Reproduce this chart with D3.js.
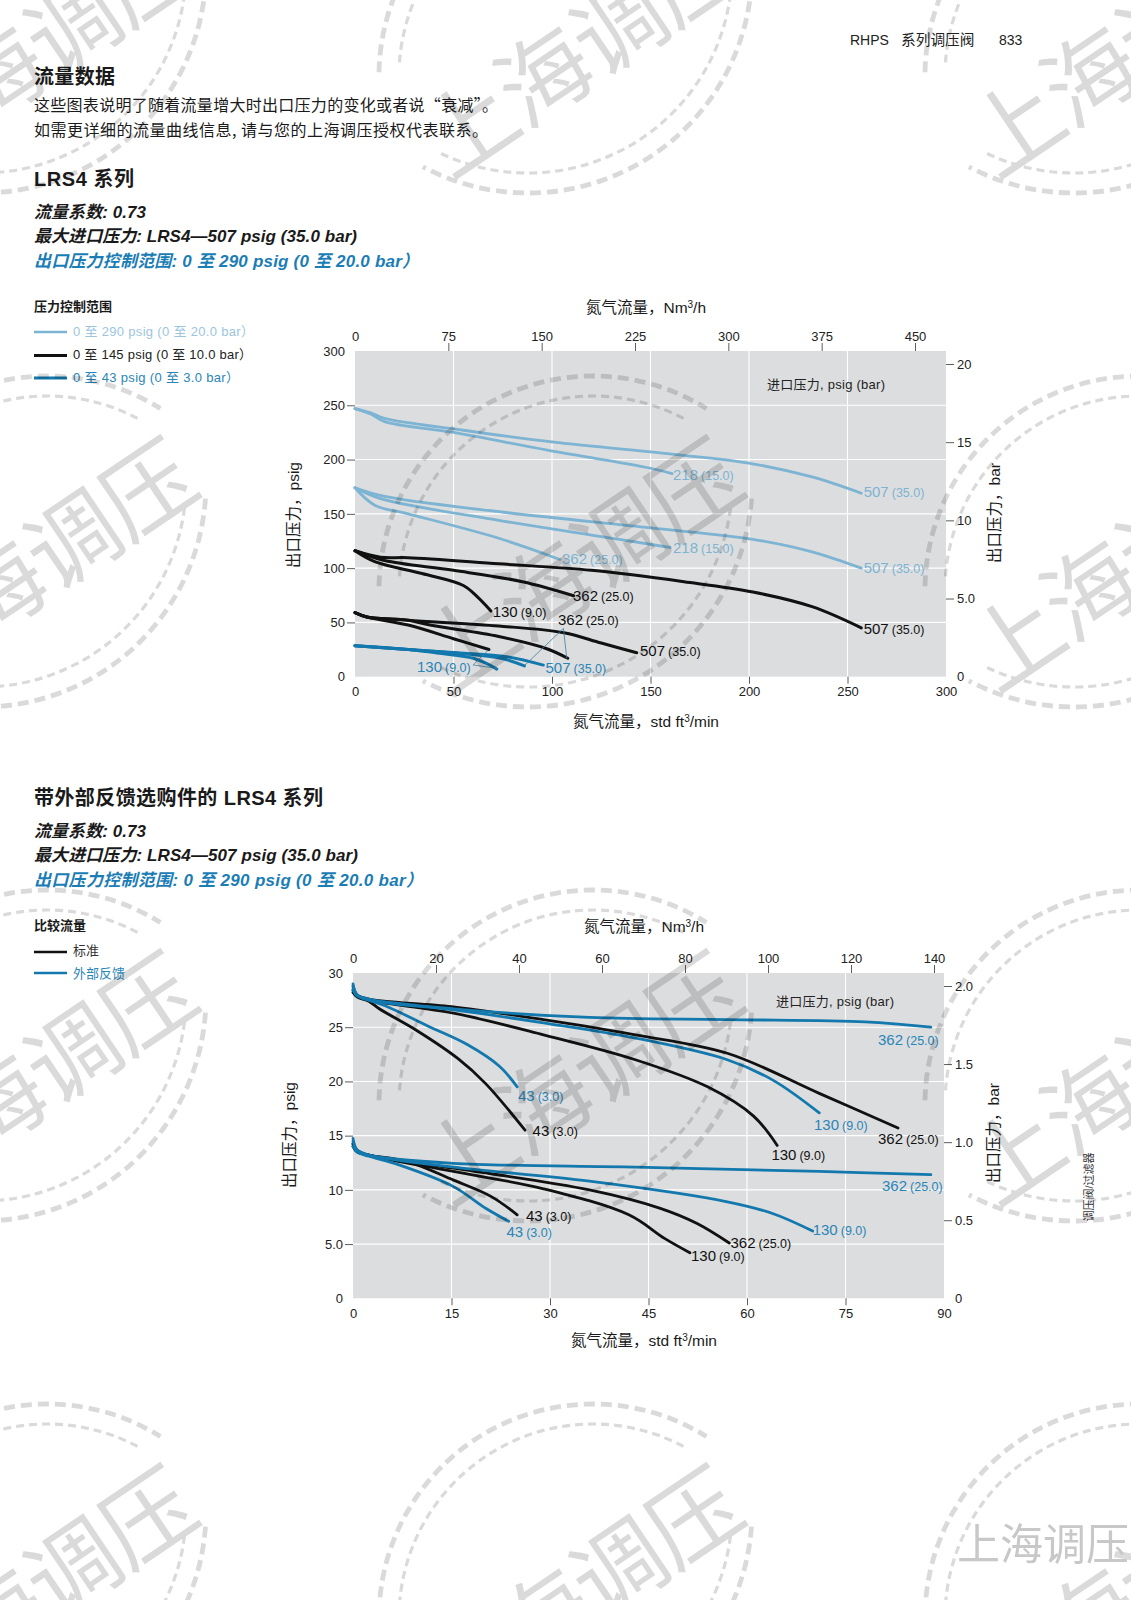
<!DOCTYPE html>
<html><head><meta charset="utf-8">
<script src="https://cdn.jsdelivr.net/npm/d3@7/dist/d3.min.js"></script>
<style>
html,body{margin:0;padding:0;background:#fff}
svg{display:block}
svg text{font-family:"Liberation Sans","Noto Sans CJK SC",sans-serif}
</style></head><body><div id="c"></div>
<script>
// ---------- data: upper chart (x = std ft3/min, y = psig)
const a_light_507_hi=[[0,247],[8,243],[15,238],[55,227],[101,216],[150,207],[199,197],[232,184],[257,169]];
const a_light_218_hi=[[0,247],[8,242],[15,235],[50,225],[97,209],[150,192],[161,187]];
const a_light_507_lo=[[0,174],[15,166],[73,152],[150,137],[202,126.5],[232,115],[257,100]];
const a_light_218_lo=[[0,174],[13,164],[73,144],[120,130.5],[160,119]];
const a_light_362_lo=[[0,174],[10,158],[27,150],[73,127.5],[104,108]];
const a_black_507_hi=[[0,116],[13,110],[27,109.6],[73,104],[120,98],[167,87.5],[202,78],[232,64.5],[257,45]];
const a_black_362_hi=[[0,116],[15,107],[50,98],[85,87.5],[111,74.6]];
const a_black_130_hi=[[0,116],[10,106],[34,95],[55,84],[62,73.7],[69,60.5]];
const a_black_507_lo=[[0,59],[6,55],[27,52],[73,46.7],[106,40.5],[125,31],[143,22]];
const a_black_362_lo=[[0,59],[6,55],[27,52],[38,47.6],[73,37],[97,26],[108,17]];
const a_black_130_lo=[[0,59],[6,55],[27,47.6],[50,35],[68,25]];
const a_blue_507=[[0,28.5],[27,25],[52,22],[77,18.4],[95.6,10.7]];
const a_blue_362=[[0,28.5],[27,25],[52,21.5],[74,17],[86,10]];
const a_blue_130=[[0,28.5],[27,25],[43,21.5],[60,17],[67,12],[72,7]];
const a_leader_130=[[67.7,24.6],[60,10.8],[72,7.7]];
const a_leader_362=[[107.5,16.9],[105.8,44.5],[86.3,10.7]];
const a_xTicks=[0,50,100,150,200,250,300];
const a_yTicks=[0,50,100,150,200,250,300];
const a_topTicks=[0,75,150,225,300,375,450];
const a_barTicks=[0,5,10,15,20];
const a_barLabels=["0","5.0","10","15","20"];
// ---------- data: lower chart
const b_blue_362_hi=[[0,29],[0.6,28],[2.4,27.6],[15.3,26.7],[36,25.9],[57,25.7],[78,25.5],[88,25]];
const b_black_362_hi=[[0,28.8],[0.6,28],[2.4,27.6],[15,26.9],[29,25.7],[43,24.3],[57,22.6],[71,18.9],[83,15.7]];
const b_blue_130_hi=[[0,28.6],[0.6,28],[2.4,27.5],[15.3,26.6],[29,25.4],[43,24],[57,22],[64,20.1],[71,17.1]];
const b_black_130_hi=[[0,28.4],[0.6,27.9],[2.4,27.5],[15.3,26.3],[29,24.3],[43,22],[54,19.5],[61,16.8],[64.6,14.1]];
const b_blue_43_hi=[[0,28.4],[0.6,27.9],[2.4,27.5],[4.8,27],[11.8,25],[17.4,23.4],[22.3,21.4],[25,19.5]];
const b_black_43_hi=[[0,28.2],[0.6,27.8],[2.4,27.4],[4,26.7],[9.7,24.7],[16,22.1],[20.2,19.8],[26.2,15.5]];
const b_blue_362_lo=[[0,14.75],[0.6,13.7],[2.4,13.2],[15.3,12.45],[43,12.1],[71,11.7],[88,11.4]];
const b_blue_130_lo=[[0,14.5],[0.6,13.7],[2.4,13.2],[15.3,12.1],[36,10.8],[57,8.9],[64,7.8],[70,6.2]];
const b_black_362_lo=[[0,14.3],[0.6,13.6],[2.4,13.2],[15.3,12],[36,10],[46.8,8.3],[52.4,6.9],[57.3,5.1]];
const b_black_130_lo=[[0,14.2],[0.6,13.6],[2.4,13.2],[15.3,11.7],[29,10.1],[42,7.7],[47.5,5.5],[51.3,4.2]];
const b_black_43_lo=[[0,14],[0.6,13.5],[2.4,13.2],[8.3,12.6],[15.3,10.9],[21,9.4],[25,7.7]];
const b_blue_43_lo=[[0,14],[0.6,13.5],[2.4,13.1],[7,12.3],[15.3,10.3],[20.2,8.3],[23.7,7.1]];
const b_xTicks=[0,15,30,45,60,75,90];
const b_yTicks=[0,5,10,15,20,25,30];
const b_yLabels=["0","5.0","10","15","20","25","30"];
const b_topTicks=[0,20,40,60,80,100,120,140];
const b_barTicks=[0,0.5,1,1.5,2];
const b_barLabels=["0","0.5","1.0","1.5","2.0"];
// ---------- text
const legend1=["0 至 290 psig (0 至 20.0 bar）","0 至 145 psig (0 至 10.0 bar）","0 至 43 psig (0 至 3.0 bar）"];
const legend2=["标准","外部反馈"];
const watermarkWord="上海调压";

// ---------- styles
const LIGHT="#7db4d3",BLACK="#111111",BLUE="#1278ad",TXTBLUE="#2a85b8",LEG_LIGHT="#9cc5dd";
const svg=d3.select("#c").append("svg").attr("width",1131).attr("height",1600).attr("viewBox","0 0 1131 1600");
const page=svg.append("g");
function T(x,y,s,o={}){
  const t=page.append("text").attr("x",x).attr("y",y).text(s)
    .attr("font-size",o.size||14).attr("fill",o.fill||"#1a1a1a");
  if(o.weight)t.attr("font-weight",o.weight);
  if(o.italic)t.attr("font-style","italic");
  if(o.anchor)t.attr("text-anchor",o.anchor);
  if(o.len)t.attr("textLength",o.len).attr("lengthAdjust","spacing");
  if(o.rot)t.attr("transform",`rotate(${o.rot} ${x} ${y})`);
  if(o.cjk)t.style("font-family",'"Noto Sans CJK SC"');
  return t;
}
// header + paragraphs
T(850,45,"RHPS",{size:14,fill:"#222"});
T(901,45,"系列调压阀",{size:14.7,fill:"#222"});
T(999,45,"833",{size:14,fill:"#222"});
T(34,84,"流量数据",{size:20,weight:700,len:81});
T(34,111,"这些图表说明了随着流量增大时出口压力的变化或者说“衰减”。",{size:16,cjk:true,len:464});
T(34,136,"如需更详细的流量曲线信息, 请与您的上海调压授权代表联系。",{size:16,cjk:true,len:454});
T(34,186,"LRS4 系列",{size:20,weight:700,len:100});
T(34,218,"流量系数: 0.73",{size:17,weight:700,italic:true,len:112});
T(34,242,"最大进口压力: LRS4—507 psig (35.0 bar)",{size:17,weight:700,italic:true,len:323});
T(34,267,"出口压力控制范围: 0 至 290 psig (0 至 20.0 bar）",{size:17,weight:700,italic:true,fill:"#1b7db5",len:385});
T(34,311,"压力控制范围",{size:13,weight:700,len:78});
T(34,805,"带外部反馈选购件的 LRS4 系列",{size:20,weight:700,len:289});
T(34,836.5,"流量系数: 0.73",{size:17,weight:700,italic:true,len:112});
T(34,861,"最大进口压力: LRS4—507 psig (35.0 bar)",{size:17,weight:700,italic:true,len:324});
T(34,886,"出口压力控制范围: 0  至 290 psig (0 至 20.0 bar）",{size:17,weight:700,italic:true,fill:"#1b7db5",len:389});
T(34,930,"比较流量",{size:13,weight:700,len:52});
T(1093,1187,"调压阀/过滤器",{size:11,anchor:"middle",rot:-90,fill:"#333"});

// legends
function legRow(y,bl,s,stroke,fill,w,len){
  page.append("line").attr("x1",34).attr("x2",67).attr("y1",y).attr("y2",y).attr("stroke",stroke).attr("stroke-width",w);
  T(73,bl,s,{size:13,fill,len});
}
legRow(332,336,legend1[0],LIGHT,LEG_LIGHT,2.4,181);
legRow(355.5,359,legend1[1],BLACK,"#222",2.8,179);
legRow(378,381.5,legend1[2],BLUE,TXTBLUE,2.8,166);
legRow(952,955,legend2[0],BLACK,"#333",2.6);
legRow(973,978,legend2[1],BLUE,TXTBLUE,2.6);

function chart(cfg){
  const {L,R,Tp,B}=cfg;
  const x=d3.scaleLinear().domain(cfg.xd).range([L,R]);
  const y=d3.scaleLinear().domain(cfg.yd).range([B,Tp]);
  const top=d3.scaleLinear().domain(cfg.topd).range([L,cfg.topEnd]);
  const bar=d3.scaleLinear().domain(cfg.bard).range([B,cfg.barEnd]);
  const g=page.append("g");
  g.append("rect").attr("x",L).attr("y",Tp).attr("width",R-L).attr("height",B-Tp).attr("fill","#dcddde");
  cfg.xTicks.slice(1,-1).forEach(v=>g.append("line").attr("x1",x(v)).attr("x2",x(v)).attr("y1",Tp).attr("y2",B).attr("stroke","#fff").attr("stroke-width",1.1));
  cfg.yTicks.slice(1,-1).forEach(v=>g.append("line").attr("x1",L).attr("x2",R).attr("y1",y(v)).attr("y2",y(v)).attr("stroke","#fff").attr("stroke-width",1.1));
  function style(sel,dropFn){
    sel.select(".domain").remove();
    sel.selectAll("text").attr("font-size",13).attr("fill","#222").attr("font-family",null);
    sel.selectAll(".tick line").attr("stroke","#333").attr("stroke-width",0.8).filter(dropFn).remove();
  }
  const yl=cfg.yLabels, bl=cfg.barLabels;
  g.append("g").attr("transform",`translate(0,${B})`).call(d3.axisBottom(x).tickValues(cfg.xTicks).tickSize(7).tickPadding(3).tickFormat(d3.format("d")))
    .call(s=>style(s,d=>d===cfg.xTicks[0]||d===cfg.xTicks[cfg.xTicks.length-1]));
  g.append("g").attr("transform",`translate(0,${Tp})`).call(d3.axisTop(top).tickValues(cfg.topTicks).tickSize(8).tickPadding(2).tickFormat(d3.format("d")))
    .call(s=>style(s,d=>d===0));
  g.append("g").attr("transform",`translate(${L},0)`).call(d3.axisLeft(y).tickValues(cfg.yTicks).tickSize(8).tickPadding(2).tickFormat((d,i)=>yl?yl[i]:d))
    .call(s=>style(s,d=>d===cfg.yTicks[0]||d===cfg.yTicks[cfg.yTicks.length-1]));
  g.append("g").attr("transform",`translate(${R},0)`).call(d3.axisRight(bar).tickValues(cfg.barTicks).tickSize(8).tickPadding(3).tickFormat((d,i)=>bl[i]))
    .call(s=>style(s,d=>d===0));
  const line=d3.line().x(d=>x(d[0])).y(d=>y(d[1])).curve(d3.curveCatmullRom.alpha(0.5));
  (cfg.series).forEach(s=>g.append("path").attr("d",line(s[0])).attr("fill","none").attr("stroke",s[1]).attr("stroke-width",s[2]).attr("stroke-linecap","round"));
  (cfg.leaders||[]).forEach(s=>g.append("path").attr("d",d3.line().x(d=>x(d[0])).y(d=>y(d[1]))(s)).attr("fill","none").attr("stroke","#3a7f9f").attr("stroke-width",0.8));
  // titles
  function sup(t,a,b){t.text(a);t.append("tspan").attr("font-size",10).attr("dy",-5).text("3");t.append("tspan").attr("dy",5).text(b);return t;}
  sup(T(cfg.tx,cfg.topTitleY,"",{size:15.5,anchor:"middle"}),"氮气流量，Nm","/h");
  sup(T(cfg.tx,cfg.botTitleY,"",{size:15.5,anchor:"middle"}),"氮气流量，std ft","/min");
  T(cfg.leftX,cfg.leftY,"出口压力，psig",{size:15.5,anchor:"middle",rot:-90});
  T(cfg.rightX,cfg.rightY,cfg.rightTitle,{size:15.5,anchor:"middle",rot:-90});
  T(cfg.inletX,cfg.inletY,"进口压力, psig (bar)",{size:13,fill:"#222",len:cfg.inletLen});
  cfg.labels.forEach(l=>{
    const t=page.append("text").attr("x",l[0]).attr("y",l[1]).attr("fill",l[4]);
    t.append("tspan").attr("font-size",15).text(l[2]);
    t.append("tspan").attr("font-size",12.5).attr("dx",3).text(l[3]);
  });
}
const LAB_LIGHT="#7db4d3",LAB_BLUE="#2a85b8",LAB_BLACK="#111";
chart({L:355,R:946,Tp:351,B:676.7,xd:[0,300],yd:[0,300],topd:[0,450],topEnd:915,bard:[0,20],barEnd:364,
  xTicks:a_xTicks,yTicks:a_yTicks,topTicks:a_topTicks,barTicks:a_barTicks,barLabels:a_barLabels,
  series:[[a_light_218_hi,LIGHT,2.8],[a_light_507_hi,LIGHT,2.8],[a_light_507_lo,LIGHT,2.8],[a_light_218_lo,LIGHT,2.8],[a_light_362_lo,LIGHT,2.8],
    [a_black_507_hi,BLACK,3],[a_black_362_hi,BLACK,3],[a_black_130_hi,BLACK,3],[a_black_507_lo,BLACK,3],[a_black_362_lo,BLACK,3],[a_black_130_lo,BLACK,3],
    [a_blue_130,BLUE,3],[a_blue_362,BLUE,3],[a_blue_507,BLUE,3]],
  leaders:[a_leader_130,a_leader_362],
  tx:646,topTitleY:313,botTitleY:727,leftX:299,leftY:515,rightX:1000,rightY:513,rightTitle:"出口压力，bar",inletX:767,inletY:389,inletLen:118,
  labels:[[673,480,"218","(15.0)",LAB_LIGHT],[863.7,497,"507","(35.0)",LAB_LIGHT],[673,553,"218","(15.0)",LAB_LIGHT],[863.7,572.7,"507","(35.0)",LAB_LIGHT],[562,564,"362","(25.0)",LAB_LIGHT],
    [573,600.7,"362","(25.0)",LAB_BLACK],[492.7,616.7,"130","(9.0)",LAB_BLACK],[863.7,634,"507","(35.0)",LAB_BLACK],[558,625,"362","(25.0)",LAB_BLACK],[640,655.7,"507","(35.0)",LAB_BLACK],
    [417,671.7,"130","(9.0)",LAB_BLUE],[545.5,673,"507","(35.0)",LAB_BLUE]]
});
chart({L:353,R:944,Tp:973,B:1298.3,xd:[0,90],yd:[0,30],topd:[0,140],topEnd:934,bard:[0,2],barEnd:986,
  xTicks:b_xTicks,yTicks:b_yTicks,yLabels:b_yLabels,topTicks:b_topTicks,barTicks:b_barTicks,barLabels:b_barLabels,
  series:[[b_black_362_hi,BLACK,2.8],[b_black_130_hi,BLACK,2.8],[b_black_43_hi,BLACK,2.8],[b_blue_130_hi,BLUE,2.8],[b_blue_43_hi,BLUE,2.8],[b_blue_362_hi,BLUE,2.8],
    [b_black_362_lo,BLACK,2.8],[b_black_130_lo,BLACK,2.8],[b_black_43_lo,BLACK,2.8],[b_blue_130_lo,BLUE,2.8],[b_blue_43_lo,BLUE,2.8],[b_blue_362_lo,BLUE,2.8]],
  tx:644,topTitleY:932,botTitleY:1345.7,leftX:295,leftY:1135,rightX:999,rightY:1133,rightTitle:"出口压力，bar",inletX:776,inletY:1006,inletLen:118,
  labels:[[878,1045,"362","(25.0)",LAB_BLUE],[518,1100.7,"43","(3.0)",LAB_BLUE],[532.6,1136,"43","(3.0)",LAB_BLACK],[814,1130,"130","(9.0)",LAB_BLUE],[878,1144,"362","(25.0)",LAB_BLACK],
    [771.4,1160,"130","(9.0)",LAB_BLACK],[882,1190.7,"362","(25.0)",LAB_BLUE],[812.7,1235,"130","(9.0)",LAB_BLUE],[526,1221,"43","(3.0)",LAB_BLACK],[506.5,1237,"43","(3.0)",LAB_BLUE],
    [730.5,1247.7,"362","(25.0)",LAB_BLACK],[691,1260.7,"130","(9.0)",LAB_BLACK]]
});

// watermark layer (multiplied over the page)
const wm=svg.append("g").style("mix-blend-mode","multiply");
const WM="#dadada",rad=Math.PI/180;
function arc(cx,cy,r,a0,a1,w,dash){
  const p=d3.path();p.arc(cx,cy,r,a0*rad,a1*rad);
  wm.append("path").attr("d",p.toString()).attr("fill","none").attr("stroke",WM).attr("stroke-width",w).attr("stroke-dasharray",dash);
}
[41,587,1133].forEach(cx=>[38,552,1066,1580].forEach(cy=>{
  wm.append("text").attr("transform",`translate(${cx-10},${cy+8}) rotate(-34)`).attr("text-anchor","middle").attr("dominant-baseline","central")
    .attr("font-size",92).attr("letter-spacing",-2).attr("fill",WM).style("font-family",'"Noto Sans CJK SC"').attr("font-weight",400).text(watermarkWord);
  arc(cx+6,cy+38,214,-179,-58,4.8,"11 6");
  arc(cx+6,cy+38,194,-176,-61,3.2,"8 5");
  arc(cx-59,cy-69,224,4,118,4.8,"11 6");
  arc(cx-59,cy-69,204,7,116,3.2,"8 5");
}));
wm.append("text").attr("x",957).attr("y",1560).attr("font-size",43).attr("fill","#c8c8c8").style("font-family",'"Noto Sans CJK SC"').attr("font-weight",400).text(watermarkWord);
</script></body></html>
